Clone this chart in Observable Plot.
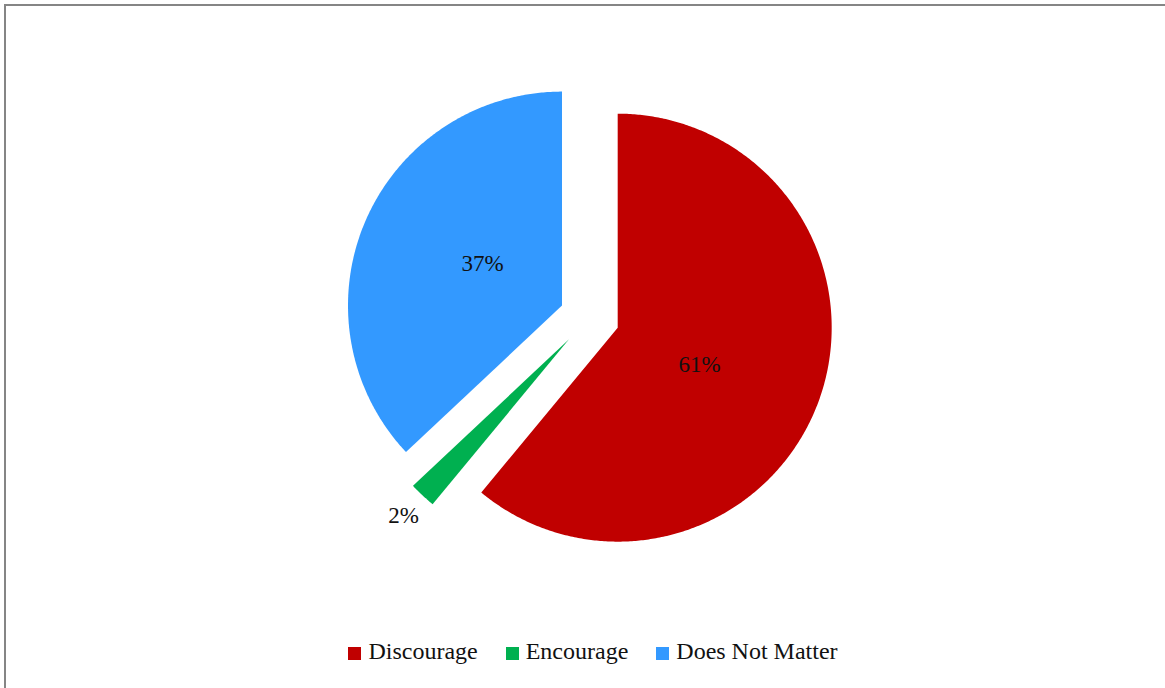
<!DOCTYPE html>
<html>
<head>
<meta charset="utf-8">
<script src="https://cdn.jsdelivr.net/npm/d3@7"></script>
<script src="https://cdn.jsdelivr.net/npm/@observablehq/plot@0.6"></script>
<style>
  html, body { margin: 0; padding: 0; background: #fff; width: 1165px; height: 688px; overflow: hidden; }
  #frame { position: absolute; left: 4px; top: 4px; width: 1400px; height: 900px;
           border-left: 2px solid #858585; border-top: 2px solid #858585; border-right: none; border-bottom: none;
           pointer-events: none; }
  #chart { position: absolute; left: 0; top: 0; }
  #legend { position: absolute; left: 0; width: 1186px; top: 637px; height: 28px;
            display: flex; justify-content: center; align-items: center;
            font-family: "Liberation Serif", "Times New Roman", serif; font-size: 24px; color: #111; }
  .item { display: flex; align-items: center; margin: 0 14px; }
  .sw { width: 13px; height: 13px; margin-right: 7px; margin-top: 5px; }
</style>
</head>
<body>
<div id="chart"></div>
<div id="frame"></div>
<div id="legend"></div>
<script>
const categories = ["Discourage", "Encourage", "Does Not Matter"];
const values = [61, 2, 37];
const labels = ["61%", "2%", "37%"];
const colors = ["#C00000", "#00B050", "#3399FF"];

// layout (pixels)
const W = 1165, H = 620;
const cx = 589, cy = 317, R = 214;   // pie centre and radius
const explode = 0.14;                 // explosion as fraction of radius
const insideLabelR = 0.42, outsideLabelR = 1.13;
const labelTurn = 4.5 * Math.PI / 180; // label angular nudge

const pie = d3.pie().sort(null).value(d => d.value).startAngle(0).endAngle(2 * Math.PI);
const rows = categories.map((c, i) => ({category: c, value: values[i], label: labels[i]}));
const arcs = pie(rows);

const pts = [];
const labelPts = [];
for (const a of arcs) {
  const mid = (a.startAngle + a.endAngle) / 2;
  const ox = explode * Math.sin(mid), oy = explode * Math.cos(mid);
  pts.push({category: a.data.category, x: ox, y: oy});
  const n = Math.max(4, Math.ceil((a.endAngle - a.startAngle) / (Math.PI / 360)));
  for (let k = 0; k <= n; k++) {
    const t = a.startAngle + (a.endAngle - a.startAngle) * k / n;
    pts.push({category: a.data.category, x: ox + Math.sin(t), y: oy + Math.cos(t)});
  }
  pts.push({category: a.data.category, x: ox, y: oy});
  const small = a.data.value < 5;
  const lr = small ? outsideLabelR : insideLabelR;
  const la = small ? mid : mid + labelTurn;
  labelPts.push({label: a.data.label, x: ox + lr * Math.sin(la), y: oy + lr * Math.cos(la)});
}

const chart = Plot.plot({
  width: W, height: H,
  marginLeft: 0, marginRight: 0, marginTop: 0, marginBottom: 0,
  style: {background: "transparent", fontFamily: "'Liberation Serif', 'Times New Roman', serif"},
  x: {domain: [-cx / R, (W - cx) / R], axis: null},
  y: {domain: [(cy - H) / R, cy / R], axis: null},
  color: {domain: categories, range: colors},
  marks: [
    Plot.line(pts, {x: "x", y: "y", z: "category", fill: "category", stroke: "none", curve: "linear"}),
    Plot.text(labelPts, {x: "x", y: "y", text: "label", fontSize: 23, fill: "#111"})
  ]
});
document.getElementById("chart").appendChild(chart);

const legend = document.getElementById("legend");
categories.forEach((c, i) => {
  const it = document.createElement("div");
  it.className = "item";
  const sw = document.createElement("div");
  sw.className = "sw";
  sw.style.background = colors[i];
  const tx = document.createElement("span");
  tx.textContent = c;
  it.appendChild(sw); it.appendChild(tx);
  legend.appendChild(it);
});
</script>
</body>
</html>
